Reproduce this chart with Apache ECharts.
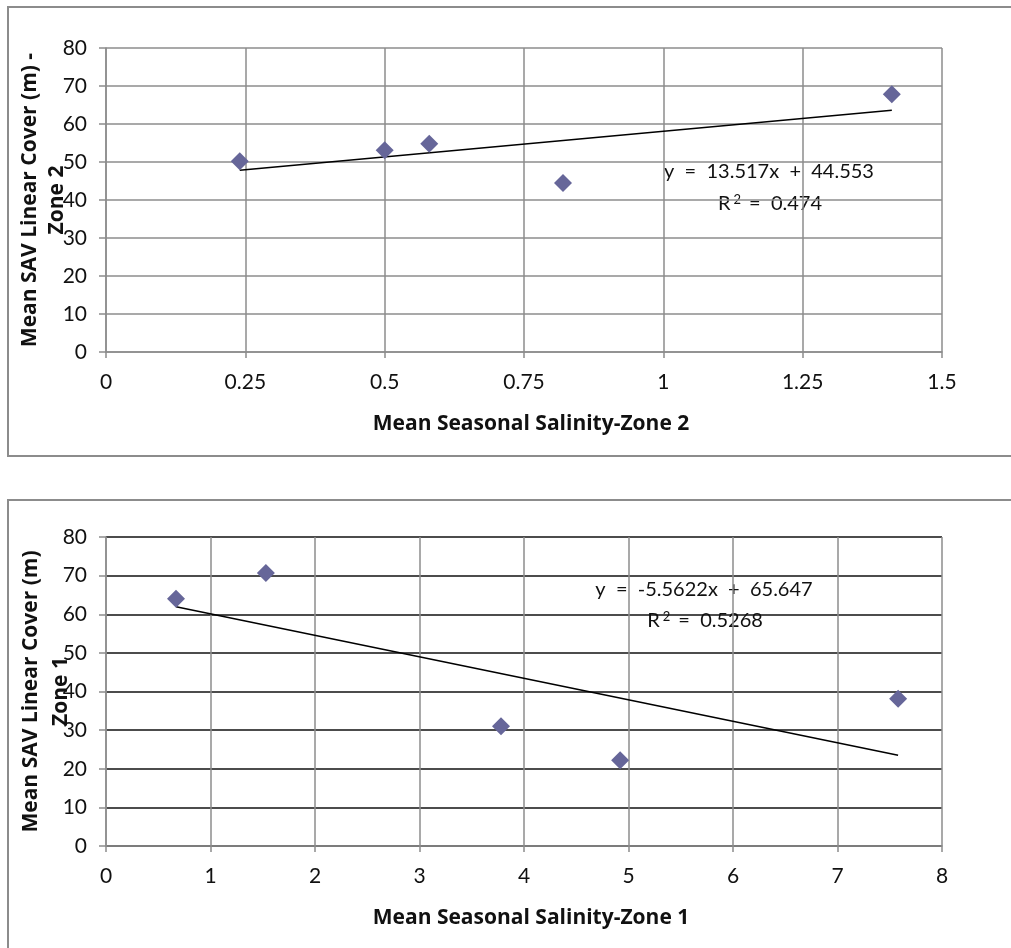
<!DOCTYPE html>
<html>
<head>
<meta charset="utf-8">
<script src="https://cdn.jsdelivr.net/npm/echarts@6/dist/echarts.min.js"></script>
<style>
	html, body { margin: 0; padding: 0; background: #fff; }
	#main { width: 1011px; height: 948px; }
</style>
</head>
<body>
<div id="main"></div>
<script>
// zone 2 (upper chart)
var zone2Salinity = [0.24, 0.5, 0.58, 0.82, 1.41];
var zone2Cover = [50.2, 53.1, 54.8, 44.5, 67.8];
var zone2Trend = [13.517, 44.553]; // slope, intercept
var zone2R2 = '0.474';
var zone2XTicks = [0, 0.25, 0.5, 0.75, 1, 1.25, 1.5];

// zone 1 (lower chart)
var zone1Salinity = [0.67, 1.53, 3.78, 4.92, 7.58];
var zone1Cover = [64.0, 70.7, 31.0, 22.2, 38.1];
var zone1Trend = [-5.5622, 65.647];
var zone1R2 = '0.5268';
var zone1XTicks = [0, 1, 2, 3, 4, 5, 6, 7, 8];

var coverTicks = [0, 10, 20, 30, 40, 50, 60, 70, 80];

var myChart = echarts.init(document.getElementById('main'));

var FONT = 'Lato';
var TITLE_FONT = 'Open Sans';
var GRAY = '#8c8c8c';

var pairs = function (xs, ys) {
	var arr = [];
	for (var i = 0; i < xs.length; i++) arr.push([xs[i], ys[i]]);
	return arr;
};
var trend = function (xs, coef) {
	var lo = Math.min.apply(null, xs), hi = Math.max.apply(null, xs);
	return [[lo, coef[0] * lo + coef[1]], [hi, coef[0] * hi + coef[1]]];
};
var fmtEq = function (coef) {
	var s = coef[1] < 0 ? ' -  ' : ' +  ';
	return 'y  =  ' + coef[0] + 'x ' + s + Math.abs(coef[1]);
};

var xAxisFor = function (ticks, title, gridIndex) {
	return {
		gridIndex: gridIndex,
		type: 'value',
		min: ticks[0],
		max: ticks[ticks.length - 1],
		interval: ticks[1] - ticks[0],
		name: title,
		nameLocation: 'middle',
		nameGap: 62,
		nameMoveOverlap: false,
		nameTextStyle: { fontFamily: TITLE_FONT, fontSize: 21, fontWeight: 'bold', color: '#111', padding: [0, 0, 0, 14] },
		axisLine: { show: true, lineStyle: { color: GRAY, width: 1.5 } },
		axisTick: { show: true, length: 6, lineStyle: { color: GRAY, width: 1.5 } },
		axisLabel: { fontFamily: FONT, fontSize: 21, color: '#111', margin: 20 },
		splitLine: { show: true, lineStyle: { color: GRAY, width: 1.5 } }
	};
};
var yAxisFor = function (title, gridIndex, gridColor, gap, lh) {
	return {
		gridIndex: gridIndex,
		type: 'value',
		min: coverTicks[0],
		max: coverTicks[coverTicks.length - 1],
		interval: coverTicks[1] - coverTicks[0],
		name: title,
		nameLocation: 'middle',
		nameRotate: 90,
		nameGap: gap,
		nameMoveOverlap: false,
		nameTextStyle: { fontFamily: TITLE_FONT, fontSize: 21, fontWeight: 'bold', color: '#111', lineHeight: lh },
		axisLine: { show: true, lineStyle: { color: GRAY, width: 1.5 } },
		axisTick: { show: true, length: 7, lineStyle: { color: GRAY, width: 1.5 } },
		axisLabel: { fontFamily: FONT, fontSize: 21, color: '#111', margin: 19 },
		splitLine: { show: true, lineStyle: { color: gridColor, width: 1.5 } }
	};
};

var eqText = function (cx, cy, text) {
	return {
		type: 'text', x: cx, y: cy,
		style: { text: text, fontFamily: FONT, fontSize: 20, fill: '#111', align: 'center', verticalAlign: 'middle' }
	};
};
var r2Text = function (cx, cy, val) {
	return {
		type: 'text', x: cx, y: cy,
		style: {
			text: '{a|R}{s|2}{a| =  ' + val + '}',
			align: 'center', verticalAlign: 'middle',
			rich: {
				a: { fontFamily: FONT, fontSize: 20, fill: '#111' },
				s: { fontFamily: FONT, fontSize: 13, fill: '#111', verticalAlign: 'top', padding: [0, 3, 9, 3] }
			}
		}
	};
};

var option = {
	backgroundColor: '#fff',
	animation: false,
	grid: [
		{ left: 106, top: 48, width: 836, height: 304, outerBoundsMode: 'none', containLabel: false },
		{ left: 106, top: 537, width: 836, height: 309, outerBoundsMode: 'none', containLabel: false }
	],
	xAxis: [
		xAxisFor(zone2XTicks, 'Mean Seasonal Salinity-Zone 2', 0),
		xAxisFor(zone1XTicks, 'Mean Seasonal Salinity-Zone 1', 1)
	],
	yAxis: [
		yAxisFor('Mean SAV Linear Cover (m) -\nZone 2', 0, GRAY, 35, 27),
		yAxisFor('Mean SAV Linear Cover (m)\nZone 1', 1, '#111', 30, 30)
	],
	graphic: [
		{ type: 'rect', shape: { x: 8, y: 7, width: 1100, height: 449 }, style: { fill: 'none', stroke: '#8c8c8c', lineWidth: 2 } },
		{ type: 'rect', shape: { x: 8, y: 500, width: 1100, height: 500 }, style: { fill: 'none', stroke: '#8c8c8c', lineWidth: 2 } },
		eqText(769, 172, fmtEq(zone2Trend)),
		r2Text(770, 204, zone2R2),
		eqText(704, 590, fmtEq(zone1Trend)),
		r2Text(705, 621, zone1R2)
	],
	series: [
		{
			type: 'line', xAxisIndex: 0, yAxisIndex: 0,
			data: trend(zone2Salinity, zone2Trend),
			symbol: 'none', lineStyle: { color: '#000', width: 1.5 }, z: 3
		},
		{
			type: 'scatter', xAxisIndex: 0, yAxisIndex: 0,
			data: pairs(zone2Salinity, zone2Cover),
			symbol: 'diamond', symbolSize: 18,
			itemStyle: { color: '#666699', opacity: 1 }, z: 4
		},
		{
			type: 'line', xAxisIndex: 1, yAxisIndex: 1,
			data: trend(zone1Salinity, zone1Trend),
			symbol: 'none', lineStyle: { color: '#000', width: 1.5 }, z: 3
		},
		{
			type: 'scatter', xAxisIndex: 1, yAxisIndex: 1,
			data: pairs(zone1Salinity, zone1Cover),
			symbol: 'diamond', symbolSize: 18,
			itemStyle: { color: '#666699', opacity: 1 }, z: 4
		}
	]
};
myChart.setOption(option);
</script>
</body>
</html>
